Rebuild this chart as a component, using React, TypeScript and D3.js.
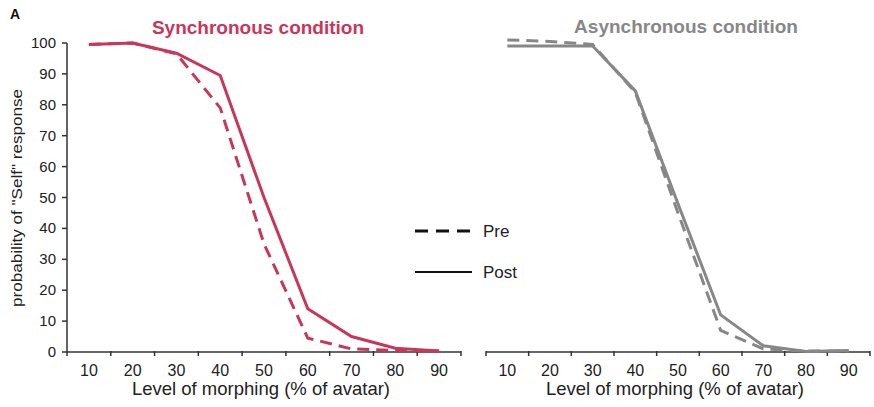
import React from "react";
import * as d3 from "d3";

const categories = [10, 20, 30, 40, 50, 60, 70, 80, 90];
const yTicks = [0, 10, 20, 30, 40, 50, 60, 70, 80, 90, 100];
const syncPre = [99.5, 100, 96.5, 79, 35, 4.5, 1, 0.5, 0.3];
const syncPost = [99.5, 100, 96.7, 89.5, 50, 14, 5, 1.2, 0.3];
const asyncPre = [101, 100.5, 99.5, 84, 45, 7, 1, 0.3, 0.3];
const asyncPost = [99, 99, 99, 84.5, 48, 12, 2, 0.2, 0.5];

const W = 874;
const H = 407;
const FONT = "'Liberation Sans', Arial, sans-serif";
const RED = "#c8375a";
const GRAY = "#878787";

export default function App() {
  const y = d3.scaleLinear().domain([0, 100]).range([352, 43]);
  const xL = d3.scaleBand<number>().domain(categories).range([67, 461]).padding(0);
  const xR = d3.scaleBand<number>().domain(categories).range([486, 870]).padding(0);

  const mkLine = (x: d3.ScaleBand<number>) =>
    d3
      .line<number>()
      .x((_, i) => (x(categories[i]) as number) + x.bandwidth() / 2)
      .y((v) => y(v));

  const lineL = mkLine(xL);
  const lineR = mkLine(xR);

  const xAxis = (x: d3.ScaleBand<number>, key: string) => {
    const [r0, r1] = x.range();
    const bounds = categories.map((c) => x(c) as number).concat([r1]);
    return (
      <g key={key}>
        <line x1={r0} x2={r1} y1={y(0)} y2={y(0)} stroke="#333" strokeWidth={1.5} />
        {bounds.map((b, i) => (
          <line key={i} x1={b} x2={b} y1={y(0) - 1} y2={y(0) + 4} stroke="#333" strokeWidth={1.5} />
        ))}
        {categories.map((c) => (
          <text
            key={c}
            x={(x(c) as number) + x.bandwidth() / 2}
            y={y(0) + 24}
            textAnchor="middle"
            fontSize={16}
            fill="#222"
          >
            {c}
          </text>
        ))}
        <text x={(r0 + r1) / 2 - 3} y={395} textAnchor="middle" fontSize={18.5} fill="#222">
          Level of morphing (% of avatar)
        </text>
      </g>
    );
  };

  return (
    <svg width={W} height={H} style={{ position: "absolute", left: 0, top: 0, background: "#fff" }} fontFamily={FONT}>
      <text x={10} y={19} fontSize={14} fontWeight="bold" fill="#111">A</text>
      <text x={258} y={34} textAnchor="middle" fontSize={19} fontWeight="bold" fill={RED}>
        Synchronous condition
      </text>
      <text x={686} y={33} textAnchor="middle" fontSize={19} fontWeight="bold" fill={GRAY}>
        Asynchronous condition
      </text>

      {/* Y axis */}
      <line x1={67} x2={67} y1={y(100)} y2={y(0)} stroke="#333" strokeWidth={1.5} />
      {yTicks.map((t) => (
        <g key={t}>
          <line x1={62} x2={67} y1={y(t)} y2={y(t)} stroke="#333" strokeWidth={1.5} />
          <text x={56} y={y(t) + 5} textAnchor="end" fontSize={15} fill="#222">
            {t}
          </text>
        </g>
      ))}
      <text
        transform="translate(22,198) rotate(-90)"
        textAnchor="middle"
        fontSize={15}
        textLength={218}
        lengthAdjust="spacingAndGlyphs"
        fill="#222"
      >
        probability of "Self" response
      </text>

      {xAxis(xL, "l")}
      {xAxis(xR, "r")}

      {/* Synchronous lines */}
      <path d={lineL(syncPre) || ""} fill="none" stroke={RED} strokeWidth={3} strokeDasharray="12,7" />
      <path d={lineL(syncPost) || ""} fill="none" stroke={RED} strokeWidth={3} />

      {/* Asynchronous lines */}
      <path d={lineR(asyncPre) || ""} fill="none" stroke={GRAY} strokeWidth={3} strokeDasharray="12,7" />
      <path d={lineR(asyncPost) || ""} fill="none" stroke={GRAY} strokeWidth={3} />

      {/* Legend */}
      <line x1={415} x2={472} y1={231} y2={231} stroke="#111" strokeWidth={3} strokeDasharray="13,8" />
      <text x={483} y={237} fontSize={17} fill="#222">Pre</text>
      <line x1={415} x2={472} y1={272} y2={272} stroke="#111" strokeWidth={2} />
      <text x={483} y={278} fontSize={17} fill="#222">Post</text>
    </svg>
  );
}
